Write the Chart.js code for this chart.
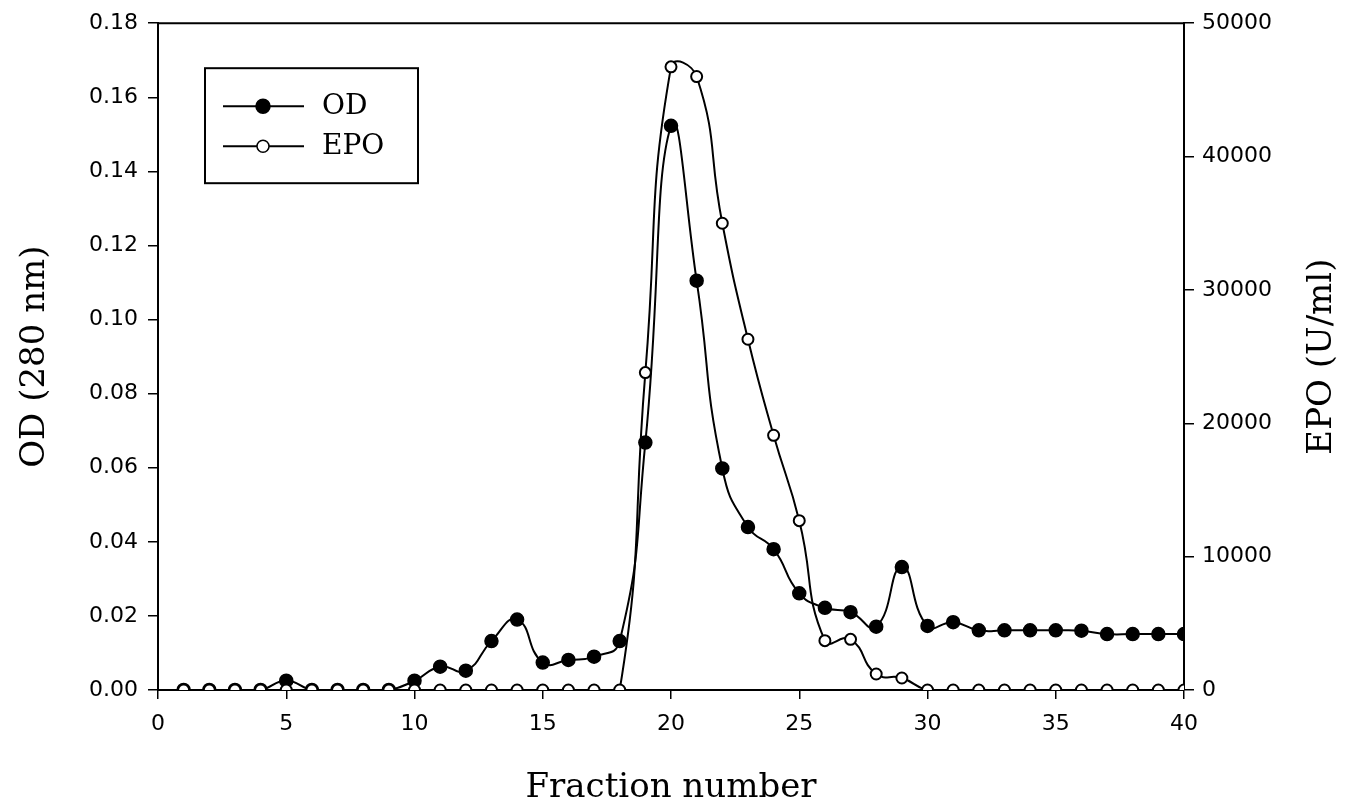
<!DOCTYPE html>
<html>
<head>
<meta charset="utf-8">
<script src="https://cdn.jsdelivr.net/npm/chart.js@4/dist/chart.umd.min.js"></script>
<style>
  body { margin: 0; background: #fff; }
  #wrap { width: 1366px; height: 808px; }
</style>
</head>
<body>
<div id="wrap"><canvas id="chart" width="1366" height="808"></canvas></div>
<script>
const fractions = [1, 2, 3, 4, 5, 6, 7, 8, 9, 10, 11, 12, 13, 14, 15, 16, 17, 18, 19, 20,
                   21, 22, 23, 24, 25, 26, 27, 28, 29, 30, 31, 32, 33, 34, 35, 36, 37, 38, 39, 40];
const odData = [0, 0, 0, 0, 0.0025, 0, 0, 0, 0, 0.0025, 0.0063, 0.0052, 0.0132, 0.019, 0.0074, 0.0081, 0.009, 0.0132, 0.0668, 0.1523,
                0.1105, 0.0598, 0.044, 0.038, 0.0261, 0.0222, 0.021, 0.0171, 0.0332, 0.0173, 0.0183, 0.0161, 0.0161, 0.0161, 0.0161, 0.016, 0.0151, 0.0151, 0.0151, 0.0151];
const epoData = [0, 0, 0, 0, 0, 0, 0, 0, 0, 0, 0, 0, 0, 0, 0, 0, 0, 0, 23800, 46730,
                 46000, 35000, 26300, 19100, 12700, 3700, 3800, 1200, 900, 0, 0, 0, 0, 0, 0, 0, 0, 0, 0, 0];
const xTicks = [0, 5, 10, 15, 20, 25, 30, 35, 40];
const odTicks = [0, 0.02, 0.04, 0.06, 0.08, 0.10, 0.12, 0.14, 0.16, 0.18];
const epoTicks = [0, 10000, 20000, 30000, 40000, 50000];

const tickFont = { family: 'DejaVu Sans', size: 22 };
const titleFont = { family: 'DejaVu Serif', size: 34, lineHeight: 1 };

// top frame line, right axis title (reads bottom-up) and the legend box
const framePlugin = {
  id: 'frame',
  afterDraw(chart) {
    const ctx = chart.ctx;
    const a = chart.chartArea;
    ctx.save();
    ctx.strokeStyle = '#000';
    ctx.lineWidth = 2;
    ctx.beginPath();
    ctx.moveTo(a.left, a.top);
    ctx.lineTo(a.right, a.top);
    ctx.stroke();

    ctx.save();
    ctx.translate(1322, (a.top + a.bottom) / 2);
    ctx.rotate(-Math.PI / 2);
    ctx.fillStyle = '#000';
    ctx.font = '34px "DejaVu Serif"';
    ctx.textAlign = 'center';
    ctx.textBaseline = 'middle';
    ctx.fillText('EPO (U/ml)', 0, 0);
    ctx.restore();

    const bx = a.left + 47, by = a.top + 45, bw = 213, bh = 115;
    ctx.strokeRect(bx, by, bw, bh);
    [0, 1].forEach((di, i) => {
      const ds = chart.data.datasets[di];
      const y = by + 38 + i * 40;
      ctx.lineWidth = 2;
      ctx.beginPath();
      ctx.moveTo(bx + 18, y);
      ctx.lineTo(bx + 99, y);
      ctx.stroke();
      ctx.beginPath();
      ctx.arc(bx + 58, y, di === 0 ? 7 : 6, 0, Math.PI * 2);
      ctx.fillStyle = ds.pointBackgroundColor;
      ctx.fill();
      ctx.lineWidth = 1.5;
      ctx.stroke();
      ctx.fillStyle = '#000';
      ctx.font = '28px "DejaVu Serif"';
      ctx.textBaseline = 'middle';
      ctx.fillText(ds.label, bx + 117, y + 1);
    });
    ctx.restore();
  }
};

new Chart(document.getElementById('chart'), {
  type: 'line',
  data: {
    datasets: [{
      label: 'OD',
      data: fractions.map((f, i) => ({ x: f, y: odData[i] })),
      yAxisID: 'y',
      borderColor: '#000',
      borderWidth: 2,
      pointRadius: 6.5,
      pointBackgroundColor: '#000',
      pointBorderColor: '#000',
      pointBorderWidth: 1.5,
      tension: 0.5,
      order: 1
    }, {
      label: 'EPO',
      data: fractions.map((f, i) => ({ x: f, y: epoData[i] })),
      yAxisID: 'y2',
      borderColor: '#000',
      borderWidth: 2,
      pointRadius: 5.5,
      pointBackgroundColor: '#fff',
      pointBorderColor: '#000',
      pointBorderWidth: 2,
      tension: 0.5,
      order: 0
    }]
  },
  options: {
    responsive: false,
    animation: false,
    layout: { padding: { top: 22 } },
    plugins: { legend: { display: false }, tooltip: { enabled: false } },
    scales: {
      x: {
        type: 'linear',
        min: 0, max: 40,
        afterBuildTicks: s => { s.ticks = xTicks.map(v => ({ value: v })); },
        afterFit: s => { s.height = 118; },
        ticks: { color: '#000', font: tickFont, padding: 12, maxRotation: 0 },
        grid: { drawOnChartArea: false, color: '#000', lineWidth: 1.5, tickLength: 9 },
        border: { color: '#000', width: 2 },
        title: { display: true, text: 'Fraction number', color: '#000', font: titleFont, padding: { top: 0, bottom: 3 } }
      },
      y: {
        position: 'left',
        min: 0, max: 0.18,
        afterBuildTicks: s => { s.ticks = odTicks.map(v => ({ value: v })); },
        afterFit: s => { s.width = 158; },
        ticks: { color: '#000', font: tickFont, padding: 10, callback: v => v.toFixed(2) },
        grid: { drawOnChartArea: false, color: '#000', lineWidth: 1.5, tickLength: 10 },
        border: { color: '#000', width: 2 },
        title: { display: true, text: 'OD (280 nm)', color: '#000', font: titleFont, padding: { top: 18, bottom: 0 } }
      },
      y2: {
        position: 'right',
        min: 0, max: 50000,
        afterBuildTicks: s => { s.ticks = epoTicks.map(v => ({ value: v })); },
        afterFit: s => { s.width = 182; },
        ticks: { color: '#000', font: tickFont, padding: 8, callback: v => String(v) },
        grid: { drawOnChartArea: false, color: '#000', lineWidth: 1.5, tickLength: 10 },
        border: { color: '#000', width: 2 }
      }
    }
  },
  plugins: [framePlugin]
});
</script>
</body>
</html>
